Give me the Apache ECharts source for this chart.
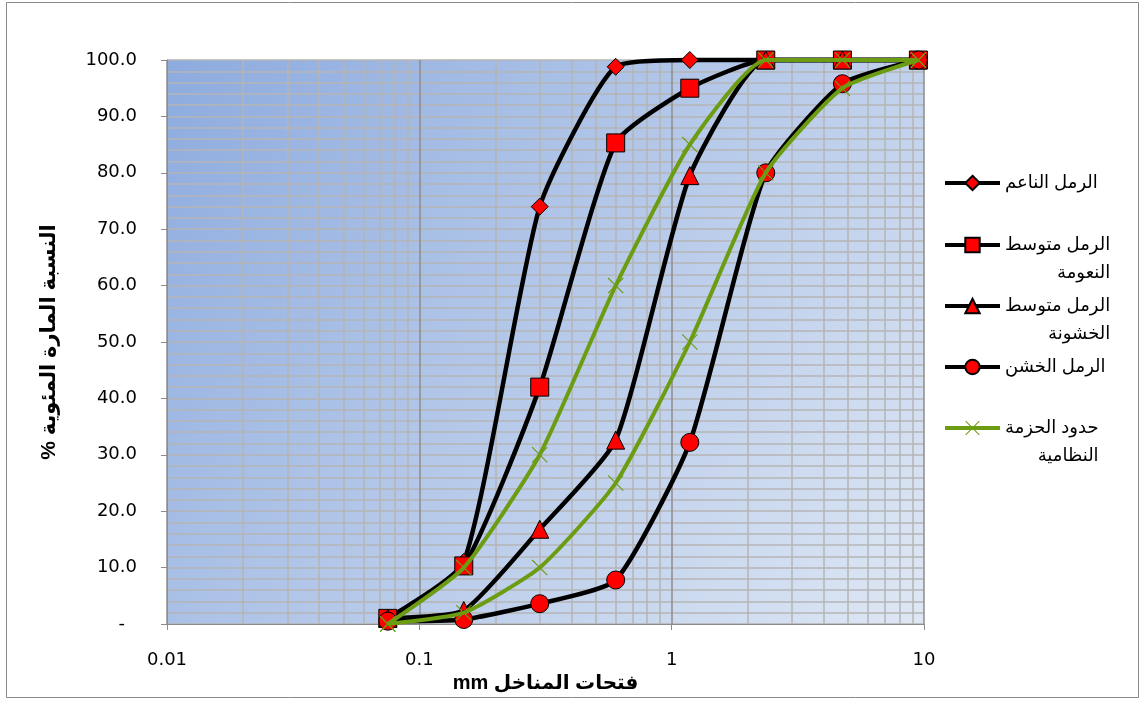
<!DOCTYPE html>
<html>
<head>
<meta charset="utf-8">
<script src="https://cdn.jsdelivr.net/npm/echarts@6/dist/echarts.min.js"></script>
<style>
  html, body { margin: 0; padding: 0; background: #fff; }
  #chart { width: 1141px; height: 702px; }
</style>
</head>
<body>
<div id="chart"></div>
<script>
// sieve openings (mm) and percent passing
const sieveSizes = [0.075, 0.15, 0.3, 0.6, 1.18, 2.36, 4.75, 9.5];
const fineSand = [1.0, 11.0, 74.0, 98.8, 100, 100, 100, 100];
const mediumFineSand = [1.0, 10.3, 42.0, 85.3, 95.0, 100, 100, 100];
const mediumCoarseSand = [1.0, 2.4, 16.8, 32.6, 79.5, 100, 100, 100];
const coarseSand = [0.5, 0.8, 3.6, 7.8, 32.2, 80.0, 95.8, 100];
const upperLimit = [0, 10, 30, 60, 85, 100, 100, 100];
const lowerLimit = [0, 2, 10, 25, 50, 80, 95, 100];

const seriesNames = ['الرمل الناعم', 'الرمل متوسط النعومة', 'الرمل متوسط الخشونة', 'الرمل الخشن', 'حدود الحزمة النظامية'];
const legendLines = [['الرمل الناعم'], ['الرمل متوسط', 'النعومة'], ['الرمل متوسط', 'الخشونة'], ['الرمل الخشن'], ['حدود الحزمة', 'النظامية']];

const xTicks = [0.01, 0.1, 1, 10];
const minorGridX = [0.02, 0.03, 0.04, 0.05, 0.06, 0.07, 0.08, 0.09,
  0.2, 0.3, 0.4, 0.5, 0.6, 0.7, 0.8, 0.9,
  2, 3, 4, 5, 6, 7, 8, 9];

const font = '"Liberation Sans", "DejaVu Sans", Arial, sans-serif';
const tickFont = '"DejaVu Sans", Verdana, sans-serif';
const green = '#6c9c12';
const gridGray = '#b5b5b5';

const chart = echarts.init(document.getElementById('chart'));

const pairs = vals => sieveSizes.map((s, i) => [s, vals[i]]);

const blackSeries = (name, vals, symbol, size) => ({
  name: name,
  type: 'line',
  data: pairs(vals),
  smooth: 0.18,
  clip: false,
  z: 3,
  symbol: symbol,
  symbolSize: size,
  lineStyle: { color: '#000', width: 4.5 },
  itemStyle: { color: '#ff0000', borderColor: '#000', borderWidth: 1 },
  emphasis: { disabled: true }
});

const crossPath = 'path://M0,1 L1,0 L10,9 L19,0 L20,1 L11,10 L20,19 L19,20 L10,11 L1,20 L0,19 L9,10 Z';

const greenSeries = vals => ({
  name: seriesNames[4],
  type: 'line',
  data: pairs(vals),
  smooth: 0.18,
  clip: false,
  z: 4,
  symbol: crossPath,
  symbolSize: 16,
  lineStyle: { color: green, width: 4 },
  itemStyle: { color: green, borderWidth: 0 },
  emphasis: { disabled: true }
});

const legendCenters = [183, 245, 306, 367, 428];
const legends = legendLines.map((lines, i) => {
  const two = lines.length > 1;
  return {
    data: [seriesNames[i]],
    orient: 'vertical',
    left: 943,
    top: legendCenters[i] - 9,
    padding: 0,
    itemWidth: 55,
    itemHeight: 18,
    selectedMode: false,
    lineStyle: { width: 4 },
    formatter: () => two ? '{a|' + lines[0] + '}\n{b|' + lines[1] + '}' : '{a|' + lines[0] + '}',
    textStyle: {
      color: '#000',
      fontFamily: font,
      fontSize: 18,
      padding: two ? [28, 0, 0, 0] : 0,
      rich: {
        a: { fontFamily: font, fontSize: 18, lineHeight: 28, color: '#000' },
        b: { fontFamily: font, fontSize: 18, lineHeight: 28, color: '#000', align: 'right' }
      }
    }
  };
});

const option = {
  animation: false,
  backgroundColor: '#fff',
  graphic: [{
    type: 'rect',
    shape: { x: 6.5, y: 2.5, width: 1132, height: 695 },
    style: { fill: 'none', stroke: '#898989', lineWidth: 1 },
    silent: true
  }],
  grid: {
    left: 167, right: 217, top: 60, bottom: 78,
    show: true,
    borderWidth: 0,
    backgroundColor: new echarts.graphic.LinearGradient(0, 0, 1, 1, [
      { offset: 0, color: '#8dabdf' },
      { offset: 1, color: '#dee7f4' }
    ])
  },
  legend: legends,
  xAxis: {
    type: 'log',
    logBase: 10,
    min: xTicks[0],
    max: xTicks[xTicks.length - 1],
    name: '\u202Bفتحات المناخل mm\u202C',
    nameLocation: 'middle',
    nameGap: 46,
    nameTextStyle: { fontFamily: font, fontSize: 20, fontWeight: 'bold', color: '#000' },
    axisLine: { show: true, lineStyle: { color: '#8c8c8c', width: 1 } },
    axisTick: { show: true, length: 6, lineStyle: { color: '#8c8c8c' } },
    axisLabel: {
      fontFamily: tickFont, fontSize: 18, color: '#000', margin: 27,
      formatter: v => String(v)
    },
    splitLine: { show: true, lineStyle: { color: '#8c8c8c', width: 1.5 } }
  },
  yAxis: {
    type: 'value',
    min: 0,
    max: 100,
    interval: 10,
    name: '\u202Bالنسبة المارة المئوية %\u202C',
    nameLocation: 'middle',
    nameGap: 107,
    nameTextStyle: { fontFamily: font, fontSize: 21, fontWeight: 'bold', color: '#000' },
    axisLine: { show: true, lineStyle: { color: '#8c8c8c', width: 1 } },
    axisTick: { show: true, length: 6, lineStyle: { color: '#8c8c8c' } },
    axisLabel: {
      fontFamily: tickFont, fontSize: 18, color: '#000', margin: 30,
      formatter: v => v === 0 ? '{d|-}' : v.toFixed(1),
      rich: { d: { fontFamily: tickFont, fontSize: 18, color: '#000', padding: [0, 12, 0, 0] } }
    },
    splitLine: { show: true, lineStyle: { color: gridGray, width: 1.5 } },
    minorTick: { show: false, splitNumber: 5 },
    minorSplitLine: { show: true, lineStyle: { color: gridGray, width: 1.5 } }
  },
  series: [
    {
      name: '',
      type: 'line',
      data: [],
      z: 1,
      silent: true,
      markLine: {
        silent: true,
        z: 1,
        symbol: ['none', 'none'],
        label: { show: false },
        lineStyle: { color: gridGray, width: 1.5, type: 'solid' },
        emphasis: { disabled: true },
        data: minorGridX.map(v => ({ xAxis: v }))
      }
    },
    blackSeries(seriesNames[0], fineSand, 'diamond', 17),
    blackSeries(seriesNames[1], mediumFineSand, 'rect', 18),
    blackSeries(seriesNames[2], mediumCoarseSand, 'triangle', 18),
    blackSeries(seriesNames[3], coarseSand, 'circle', 18),
    greenSeries(upperLimit),
    greenSeries(lowerLimit)
  ]
};

chart.setOption(option);
</script>
</body>
</html>
